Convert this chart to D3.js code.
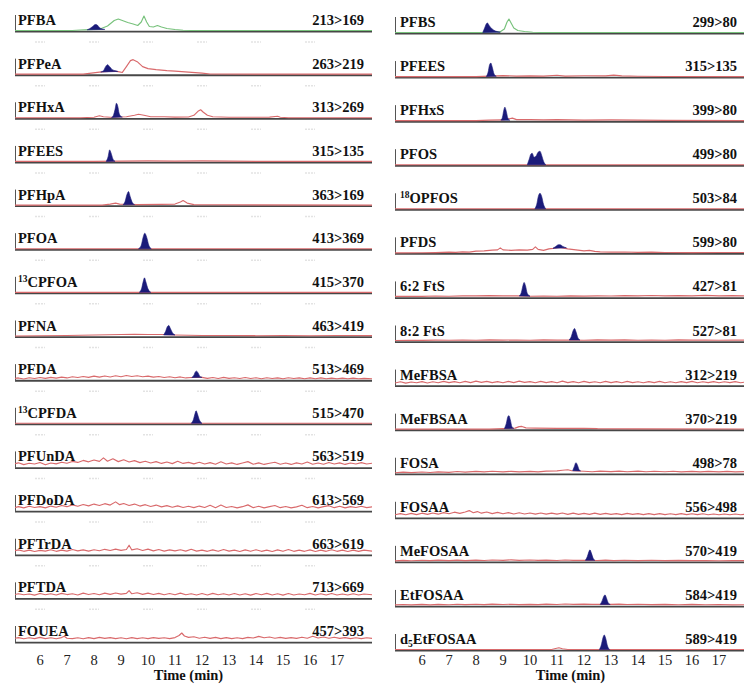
<!DOCTYPE html>
<html><head><meta charset="utf-8">
<script src="https://cdn.jsdelivr.net/npm/d3@7"></script>
<style>body{margin:0;background:#fff}</style>
</head><body><svg id="c" width="744" height="684"></svg>
<script>
// ---------------- DATA ----------------
const tickValues = [6,7,8,9,10,11,12,13,14,15,16,17];
const leftNames = ["PFBA","PFPeA","PFHxA","PFEES","PFHpA","PFOA","^13^CPFOA","PFNA","PFDA","^13^CPFDA","PFUnDA","PFDoDA","PFTrDA","PFTDA","FOUEA"];
const leftTransitions = ["213>169","263>219","313>269","315>135","363>169","413>369","415>370","463>419","513>469","515>470","563>519","613>569","663>619","713>669","457>393"];
const rightNames = ["PFBS","PFEES","PFHxS","PFOS","^18^OPFOS","PFDS","6:2 FtS","8:2 FtS","MeFBSA","MeFBSAA","FOSA","FOSAA","MeFOSAA","EtFOSAA","d_5_EtFOSAA"];
const rightTransitions = ["299>80","315>135","399>80","499>80","503>84","599>80","427>81","527>81","312>219","370>219","498>78","556>498","570>419","584>419","589>419"];

// traces: [time (min), signal]
const tPFBA = [[5,0.5],[7.2,0.5],[7.5,1],[7.8,1.4],[8.2,1.8],[8.5,5],[8.75,10.5],[8.9,12],[9.05,10.5],[9.25,8.5],[9.45,7],[9.62,5.5],[9.75,9],[9.85,15],[9.95,9],[10.05,4.5],[10.2,4],[10.35,5.5],[10.5,4],[10.7,2.5],[11,1.5],[11.3,0.8],[11.6,0.5],[18.3,0.5]];
const tPFPeA = [[5,0.5],[7.6,0.5],[7.9,1.5],[8.2,2.5],[8.4,3],[8.7,3.5],[8.9,3],[9.05,2.2],[9.2,8],[9.35,14],[9.45,15],[9.6,13],[9.8,8],[10,6],[10.3,5],[10.7,4],[11,3.5],[11.5,2.5],[12,1.5],[12.3,0.6],[18.3,0.5]];
const tPFHxA = [[5,0.5],[7.5,0.5],[8,1],[8.2,2.5],[8.35,1.5],[8.6,1],[9.2,1.5],[9.5,3],[9.65,4],[9.85,3],[10.1,1.5],[10.6,1.5],[11,1.2],[11.5,1.3],[11.7,3],[11.85,7],[11.95,8.5],[12.05,6],[12.2,3],[12.4,1.5],[13,1],[14,1],[14.5,1.2],[14.8,2],[14.9,1],[15.2,0.5],[18.3,0.5]];
const tPFEESa = [[5,0.5],[8,0.5],[9,0.8],[10,1],[11,0.8],[12,1],[13,0.8],[14,0.6],[18.3,0.5]];
const tPFHpA = [[5,0.5],[8.3,0.5],[8.6,1.5],[8.8,2.5],[8.95,1.5],[9.6,1],[10.5,1.2],[11,1.5],[11.2,3.5],[11.3,5],[11.45,2.5],[11.7,1],[12.5,0.8],[18.3,0.5]];
const tPFOA = [[5,0.5],[18.3,0.5]];
const tCPFOA = [[5,0.5],[18.3,0.5]];
const tPFNA = [[5,0.5],[6,0.7],[7,1],[8,1.5],[9,2],[9.5,2.3],[10,2],[10.5,2],[11,1.5],[12,1],[13,1],[14,0.8],[15,1],[16,0.8],[17,1],[18.3,0.8]];
const tPFDA = [[5,1.4],[5.2,2.2],[5.4,1.2],[5.6,2.4],[5.8,1.6],[6,2.6],[6.2,1.8],[6.4,2.8],[6.6,2],[6.8,3],[7,2.2],[7.2,3.4],[7.4,2.6],[7.6,3.6],[7.8,2.8],[8,4],[8.2,3],[8.4,4.2],[8.6,3.2],[8.8,4.4],[9,3.4],[9.2,4.6],[9.4,3.6],[9.6,4.4],[9.8,3.4],[10,4],[10.2,3],[10.4,3.6],[10.6,2.6],[10.8,3.4],[11,2.4],[11.2,3.2],[11.4,2.2],[11.6,2.6],[12,2.8],[12.2,1.8],[12.4,2.6],[12.6,1.6],[12.8,2.8],[13,1.8],[13.2,2.4],[13.4,1.6],[13.6,2.6],[13.8,1.6],[14,2.4],[14.2,1.4],[14.4,2.4],[14.6,1.6],[14.8,2.2],[15,1.4],[15.2,2.4],[15.4,1.6],[15.6,2.2],[15.8,1.4],[16,2.2],[16.2,1.4],[16.4,2.2],[16.6,1.4],[16.8,2],[17,1.4],[17.2,2],[17.4,1.4],[17.6,2],[17.8,1.4],[18,1.8],[18.3,1.4]];
const tCPFDA = [[5,0.5],[18.3,0.5]];
const tPFUnDA = [[5,3.2],[5.2,4.6],[5.4,2.8],[5.6,4.2],[5.8,3.4],[6,5],[6.2,2.6],[6.4,4.4],[6.6,3.6],[6.8,5.2],[7,4.2],[7.2,6],[7.4,5],[7.6,7],[7.8,5.6],[8,7.4],[8.2,6],[8.35,9.5],[8.5,6.2],[8.7,8.6],[8.9,5.8],[9.1,7.6],[9.3,5.4],[9.5,6.8],[9.7,4.8],[9.9,6.2],[10.1,4.4],[10.3,5.8],[10.5,4],[10.7,5.4],[10.9,3.8],[11.1,6.2],[11.3,4],[11.5,5],[11.7,3.6],[11.9,5.2],[12.1,3.4],[12.3,4.8],[12.5,3.2],[12.7,5.6],[12.9,3.4],[13.1,4.6],[13.3,3],[13.5,4.4],[13.7,5.8],[13.9,3.2],[14.1,4.6],[14.3,3],[14.5,4.2],[14.7,5.2],[14.9,3.2],[15.1,4.4],[15.3,3],[15.5,4.6],[15.7,3.4],[15.9,5.4],[16.1,3.2],[16.3,4.4],[16.5,3.2],[16.7,5],[16.9,3.4],[17.1,4.6],[17.3,3],[17.5,4.4],[17.7,3.4],[17.9,4.8],[18.1,3.4],[18.3,4.2]];
const tPFDoDA = [[5,3],[5.2,4.4],[5.4,3.2],[5.6,4.8],[5.8,3.6],[6,4.4],[6.2,3.2],[6.4,5],[6.6,3.8],[6.8,5.6],[7,4.4],[7.2,6.2],[7.4,4.8],[7.6,6.6],[7.8,5.2],[8,7],[8.2,5.6],[8.4,7.4],[8.6,6],[8.8,9.2],[8.95,6.4],[9.1,7.6],[9.3,5.6],[9.5,7],[9.7,5],[9.9,6.4],[10.1,4.6],[10.3,6],[10.5,4.2],[10.7,5.4],[10.9,3.8],[11.1,5.2],[11.3,3.6],[11.5,4.8],[11.7,3.4],[11.9,5],[12.1,3.6],[12.3,5.8],[12.5,3.4],[12.7,6],[12.9,3.6],[13.1,4.6],[13.3,3.2],[13.5,4.4],[13.7,6.2],[13.9,3.4],[14.1,4.8],[14.3,3.2],[14.5,4.4],[14.7,5.6],[14.9,3.4],[15.1,4.6],[15.3,3.2],[15.5,4.2],[15.7,5.8],[15.9,3.4],[16.1,4.6],[16.3,3.2],[16.5,4.4],[16.7,5.4],[16.9,3.4],[17.1,4.8],[17.3,3.2],[17.5,4.4],[17.7,3.6],[17.9,4.8],[18.1,3.4],[18.3,4.2]];
const tPFTrDA = [[5,3.6],[5.2,4.8],[5.4,3.4],[5.6,4.6],[5.8,3.2],[6,4.4],[6.2,3.6],[6.4,5],[6.6,3.4],[6.8,4.6],[7,3.6],[7.2,5.2],[7.4,3.8],[7.6,4.8],[7.8,3.6],[8,5],[8.2,4],[8.4,5.4],[8.6,4.2],[8.8,5.6],[9,4.4],[9.2,5.2],[9.3,9.5],[9.4,4.8],[9.6,6],[9.8,4.2],[10,5.6],[10.2,3.8],[10.4,5.2],[10.6,3.6],[10.8,4.8],[11,3.8],[11.2,5],[11.4,3.6],[11.6,5.4],[11.8,3.6],[12,4.6],[12.2,3.4],[12.4,4.8],[12.6,3.4],[12.8,5.2],[13,3.6],[13.2,4.6],[13.4,3.2],[13.6,4.8],[13.8,3.4],[14,5],[14.2,3.4],[14.4,4.6],[14.6,3.2],[14.8,4.8],[15,3.4],[15.2,5.2],[15.4,3.4],[15.6,4.6],[15.8,3.4],[16,4.8],[16.2,3.2],[16.4,4.6],[16.6,3.4],[16.8,5],[17,3.4],[17.2,4.6],[17.4,3.2],[17.6,4.6],[17.8,3.4],[18,4.6],[18.3,3.6]];
const tPFTDA = [[5,3.4],[5.2,4.6],[5.4,3.6],[5.6,4.4],[5.8,3.2],[6,4.8],[6.2,3.6],[6.4,4.6],[6.6,3.4],[6.8,5],[7,3.8],[7.2,4.6],[7.4,3.4],[7.6,5.2],[7.8,3.8],[8,4.8],[8.2,3.6],[8.4,5.2],[8.6,4],[8.8,5.4],[9,4.2],[9.2,5],[9.3,7.8],[9.4,4.6],[9.6,5.6],[9.8,4],[10,5.2],[10.2,3.8],[10.4,5],[10.6,3.6],[10.8,4.8],[11,3.6],[11.2,5.2],[11.4,3.6],[11.6,4.6],[11.8,3.4],[12,4.8],[12.2,3.4],[12.4,5],[12.6,3.6],[12.8,4.6],[13,3.4],[13.2,4.8],[13.4,3.4],[13.6,4.6],[13.8,3.2],[14,4.8],[14.2,3.6],[14.4,5],[14.6,3.4],[14.8,4.6],[15,3.2],[15.2,4.8],[15.4,3.4],[15.6,4.4],[15.8,3.6],[16,5],[16.2,3.4],[16.4,4.6],[16.6,3.4],[16.8,4.8],[17,3.4],[17.2,4.4],[17.4,3.4],[17.6,4.6],[17.8,3.4],[18,4.4],[18.3,3.6]];
const tFOUEA = [[5,3.4],[5.2,4.4],[5.4,3.2],[5.6,4.2],[5.8,3.4],[6,4.6],[6.2,3.4],[6.4,4.2],[6.6,3.2],[6.8,4.4],[6.9,5.8],[7,3.8],[7.2,3.4],[7.4,4.2],[7.6,3.2],[7.8,4.4],[8,3.4],[8.2,4.6],[8.4,3.6],[8.6,4.4],[8.8,3.4],[9,4.2],[9.2,3.2],[9.4,4.4],[9.6,3.4],[9.8,4.2],[10,3.4],[10.2,4.4],[10.4,3.6],[10.6,4.2],[10.8,3.4],[11,4.4],[11.15,6.5],[11.25,9],[11.35,6],[11.5,4.6],[11.7,5.2],[11.9,3.8],[12.1,4.8],[12.3,3.6],[12.5,4.6],[12.7,3.4],[12.9,4.4],[13.1,3.4],[13.3,4.2],[13.5,3.4],[13.7,4.6],[13.9,4],[14.1,5.6],[14.3,4.2],[14.5,5],[14.7,3.8],[14.9,4.6],[15.1,3.6],[15.3,4.4],[15.5,3.6],[15.7,4.8],[15.9,3.8],[16.1,5.8],[16.3,4],[16.5,5],[16.7,3.8],[16.9,4.8],[17.1,3.6],[17.3,4.4],[17.5,3.4],[17.7,4.2],[17.9,3.4],[18.1,4.2],[18.3,3.6]];

const tPFBS = [[5,0.5],[8.2,0.5],[8.5,1],[8.7,1.5],[8.9,1.2],[9.05,4],[9.15,11],[9.22,14],[9.3,10],[9.4,5],[9.55,2.5],[9.8,1.5],[10.1,0.8],[10.4,0.5],[18,0.5]];
const tPFEESb = [[5,0.5],[8,0.5],[8.5,1],[9,1.5],[9.5,1],[10,1.2],[10.5,1],[11,1.8],[11.3,1],[12,1.3],[12.8,1.2],[13.1,2],[13.4,1.2],[14,0.8],[15,0.6],[18,0.5]];
const tPFHxS = [[5,0.5],[8,0.5],[8.5,1],[9,1.2],[9.35,3],[9.5,1.5],[10,1.5],[10.5,1.2],[11,1.5],[12,1],[13,1.2],[14,1],[15,0.8],[18,0.5]];
const tPFOS = [[5,0.5],[18,0.5]];
const tOPFOS = [[5,0.5],[18,0.5]];
const tPFDS = [[5,0.5],[6,0.6],[6.5,0.8],[7,1.2],[7.25,1],[7.5,1.5],[7.75,1.3],[8,2.2],[8.3,2.5],[8.6,3.2],[8.8,3.5],[8.9,5.5],[9,3.5],[9.3,3],[9.6,3.5],[9.9,3.2],[10.1,4],[10.2,6.5],[10.3,4],[10.5,3],[10.7,4.5],[10.85,5],[11.1,6],[11.4,4.5],[11.7,3.5],[12,2.5],[12.2,3],[12.4,2],[12.6,1.5],[13,1.2],[13.5,1.4],[14,1],[14.5,1.2],[15,0.9],[16,0.8],[17,0.9],[18,0.8]];
const tFtS62 = [[5,1],[5.5,1.2],[6,1],[6.5,1.4],[7,1.2],[7.5,1.6],[8,1.5],[8.5,1.8],[9,1.6],[9.5,1.5],[10,1.2],[10.5,1.3],[11,1.2],[11.5,1.5],[12,1.3],[12.5,1.6],[13,1.4],[13.5,1.8],[14,1.5],[14.5,1.9],[15,1.5],[15.5,1.8],[16,1.6],[16.5,2],[17,1.6],[17.5,1.8],[18,1.5]];
const tFtS82 = [[5,1],[5.5,1.3],[6,1.1],[6.5,1.4],[7,1.2],[7.5,1.5],[8,1.3],[8.5,1.6],[9,1.4],[9.5,1.5],[10,1.3],[10.5,1.6],[11,1.4],[11.5,1.5],[12,1.3],[12.5,1.6],[13,1.4],[13.5,1.6],[14,1.3],[14.5,1.5],[15,1.3],[15.5,1.6],[16,1.4],[16.5,1.5],[17,1.3],[17.5,1.5],[18,1.3]];
const tMeFBSA = [[5,2.6],[5.2,3.8],[5.4,2.4],[5.6,3.6],[5.8,2.8],[6,4],[6.2,2.6],[6.4,3.8],[6.6,2.8],[6.8,4.2],[7,3],[7.2,4],[7.4,2.8],[7.6,4.2],[7.8,3],[8,4.4],[8.2,3.2],[8.4,4.2],[8.6,3],[8.8,4],[9,2.8],[9.2,4.2],[9.4,3],[9.6,4.4],[9.8,3.2],[10,4],[10.2,2.8],[10.4,4.2],[10.6,3],[10.8,4],[11,2.8],[11.2,4.4],[11.4,3],[11.6,4],[11.8,2.8],[12,4.2],[12.2,3],[12.4,3.8],[12.6,2.8],[12.8,4.2],[13,3],[13.2,4],[13.4,2.8],[13.6,4.2],[13.8,3],[14,3.8],[14.2,2.8],[14.4,4],[14.6,3],[14.8,4.2],[15,2.8],[15.2,3.8],[15.4,2.8],[15.6,4],[15.8,3],[16,4.2],[16.2,2.8],[16.4,3.8],[16.6,3],[16.8,4],[17,2.8],[17.2,3.8],[17.4,3],[17.6,4],[17.8,2.8],[18,3.6]];
const tMeFBSAA = [[5,0.5],[8.5,0.5],[9,1],[9.45,1.5],[9.6,3],[9.7,3.2],[9.85,1.8],[10.2,1.5],[11,1.2],[12,1.4],[12.5,1],[14,0.8],[18,0.6]];
const tFOSA = [[5,1],[5.3,1.6],[5.6,1.1],[6,1.7],[6.3,1.2],[6.6,1.9],[7,1.4],[7.3,2.2],[7.6,1.6],[8,2.4],[8.3,1.8],[8.6,2.5],[9,1.9],[9.3,2.4],[9.6,1.8],[10,2.3],[10.3,1.9],[10.6,2.6],[11,2.8],[11.2,3.5],[11.4,4],[11.55,3],[12,2.5],[12.3,2],[12.6,2.6],[13,2.1],[13.3,2.6],[13.6,2],[14,2.6],[14.3,2],[14.6,2.5],[15,2],[15.3,2.5],[15.6,1.9],[16,2.4],[16.3,1.9],[16.6,2.4],[17,1.9],[17.3,2.3],[17.6,1.9],[18,2.1]];
const tFOSAA = [[5,3],[5.2,4.2],[5.4,3],[5.6,4.4],[5.8,3.2],[6,4.6],[6.2,3.4],[6.4,4.8],[6.6,3.6],[6.8,5.2],[7,4],[7.2,5.6],[7.4,4.4],[7.6,5.8],[7.75,7.2],[7.9,5],[8.05,6.2],[8.2,4.6],[8.4,5.8],[8.6,4.2],[8.8,5.4],[9,4],[9.2,5.2],[9.4,3.8],[9.6,5],[9.8,3.8],[10,4.8],[10.2,3.6],[10.4,4.8],[10.6,3.6],[10.8,4.6],[11,3.6],[11.2,4.8],[11.4,3.4],[11.6,4.6],[11.8,3.4],[12,4.4],[12.2,3.4],[12.4,4.6],[12.6,3.4],[12.8,4.4],[13,3.4],[13.2,4.2],[13.4,3.2],[13.6,4.4],[13.8,3.4],[14,4.2],[14.2,3.2],[14.4,4.2],[14.6,3.2],[14.8,4.2],[15,3.2],[15.2,4],[15.4,3.2],[15.6,4.2],[15.8,3.2],[16,4],[16.2,3.2],[16.4,4],[16.6,3],[16.8,3.8],[17,3],[17.2,3.8],[17.4,3],[17.6,3.8],[17.8,3],[18,3.6]];
const tMeFOSAA = [[5,1],[5.3,1.5],[5.6,1.1],[6,1.6],[6.3,1.2],[6.6,1.7],[7,1.3],[7.3,1.8],[7.6,1.3],[8,1.8],[8.3,1.4],[8.6,1.9],[9,1.5],[9.3,2],[9.6,1.5],[10,1.9],[10.3,1.5],[10.6,1.8],[11,1.4],[11.3,1.9],[11.6,1.5],[12,1.6],[12.5,1.4],[12.8,1.8],[13.1,1.3],[13.5,1.6],[14,1.3],[14.5,1.6],[15,1.2],[15.5,1.5],[16,1.2],[16.5,1.4],[17,1.1],[17.5,1.4],[18,1.2]];
const tEtFOSAA = [[5,1],[5.3,1.4],[5.6,1],[6,1.5],[6.3,1.1],[6.6,1.6],[7,1.2],[7.3,1.7],[7.6,1.3],[8,1.7],[8.3,1.3],[8.6,1.8],[9,1.4],[9.3,1.7],[9.6,1.3],[10,1.6],[10.3,1.3],[10.6,1.8],[11,1.4],[11.3,1.9],[11.6,1.5],[12,1.8],[12.3,1.5],[12.5,1.7],[13,1.5],[13.3,1.8],[13.6,1.4],[14,1.7],[14.5,1.3],[15,1.6],[15.5,1.2],[16,1.5],[16.5,1.2],[17,1.4],[17.5,1.1],[18,1.2]];
const tD5EtFOSAA = [[5,0.5],[10.8,0.5],[10.95,1.5],[11.07,2.2],[11.2,1.2],[11.4,0.5],[18,0.5]];

// integrated (filled) peaks: [time, signal]; polygon closes back to its first point
const pPFBA = [[7.75,1.2],[7.85,2.5],[7.95,4.5],[8.05,6.5],[8.12,6],[8.2,3.5],[8.3,2],[8.4,1.6]];
const pPFPeA = [[8.25,2.6],[8.35,4],[8.43,8],[8.5,10],[8.58,8],[8.68,5],[8.8,3.8],[8.88,3.2]];
const pPFHxA = [[8.65,0.8],[8.72,3],[8.78,9],[8.83,15],[8.88,12],[8.93,5],[9,1.8],[9.05,1.2]];
const pPFEESa = [[8.45,0.5],[8.52,5],[8.58,12],[8.63,9],[8.7,3],[8.78,0.6]];
const pPFHpA = [[9.08,0.8],[9.15,4],[9.22,11],[9.28,14],[9.34,9],[9.42,3],[9.5,1]];
const pPFOA = [[9.65,0.5],[9.75,4],[9.82,12],[9.88,16],[9.95,12],[10.03,4],[10.12,0.5]];
const pCPFOA = [[9.68,0.5],[9.76,4],[9.83,12],[9.87,15],[9.92,11],[10,4],[10.1,0.5]];
const pPFNA = [[10.58,1.6],[10.65,5],[10.72,10],[10.77,11],[10.83,8],[10.9,4],[11,1.5]];
const pPFDA = [[11.62,2.6],[11.7,5],[11.76,8.5],[11.8,9],[11.86,7],[11.93,3.5],[12,2.8]];
const pCPFDA = [[11.6,0.5],[11.68,4],[11.74,10],[11.78,13],[11.83,10],[11.9,4],[12,0.5]];
const pPFBS = [[8.25,0.5],[8.32,5],[8.38,9],[8.42,10],[8.5,7],[8.6,4],[8.72,2],[8.85,1],[8.9,0.8]];
const pPFEESb = [[8.38,0.6],[8.45,5],[8.5,12],[8.55,14],[8.6,10],[8.67,3],[8.75,0.8]];
const pPFHxS = [[8.92,1],[8.98,4],[9.03,11],[9.07,14],[9.12,10],[9.18,3],[9.25,1]];
const pPFOS = [[9.9,0.5],[9.97,6],[10.03,11],[10.08,12],[10.15,8],[10.22,9],[10.3,13],[10.37,14],[10.43,10],[10.5,4],[10.58,0.5]];
const pOPFOS = [[10.18,0.5],[10.25,5],[10.31,13],[10.37,16],[10.43,13],[10.5,5],[10.58,0.5]];
const pPFDS = [[10.85,5],[10.95,6.8],[11.05,8.6],[11.12,8.6],[11.2,7.2],[11.35,5.5]];
const pFtS62 = [[9.6,1.5],[9.68,5],[9.74,12],[9.78,15],[9.83,12],[9.9,4],[10,1.3]];
const pFtS82 = [[11.45,1.5],[11.53,5],[11.6,11],[11.65,13],[11.7,10],[11.77,4],[11.85,1.5]];
const pMeFBSAA = [[9.05,1.1],[9.12,6],[9.18,13],[9.22,14],[9.27,10],[9.33,3],[9.4,1.3]];
const pFOSA = [[11.58,3],[11.64,7],[11.7,11],[11.75,9],[11.82,4],[11.87,2.8]];
const pMeFOSAA = [[12.05,1.5],[12.12,5],[12.18,10],[12.22,12],[12.27,9],[12.34,3.5],[12.4,1.5]];
const pEtFOSAA = [[12.6,1.5],[12.67,5],[12.73,9.5],[12.78,11],[12.83,8],[12.9,3],[12.97,1.5]];
const pD5EtFOSAA = [[12.57,0.5],[12.64,5],[12.7,12],[12.75,15],[12.8,12],[12.87,4],[12.95,0.5]];

const leftTraces = [tPFBA,tPFPeA,tPFHxA,tPFEESa,tPFHpA,tPFOA,tCPFOA,tPFNA,tPFDA,tCPFDA,tPFUnDA,tPFDoDA,tPFTrDA,tPFTDA,tFOUEA];
const leftPeaks = [pPFBA,pPFPeA,pPFHxA,pPFEESa,pPFHpA,pPFOA,pCPFOA,pPFNA,pPFDA,pCPFDA,null,null,null,null,null];
const rightTraces = [tPFBS,tPFEESb,tPFHxS,tPFOS,tOPFOS,tPFDS,tFtS62,tFtS82,tMeFBSA,tMeFBSAA,tFOSA,tFOSAA,tMeFOSAA,tEtFOSAA,tD5EtFOSAA];
const rightPeaks = [pPFBS,pPFEESb,pPFHxS,pPFOS,pOPFOS,pPFDS,pFtS62,pFtS82,null,pMeFBSAA,pFOSA,null,pMeFOSAA,pEtFOSAA,pD5EtFOSAA];
const faintMarkTimes = [6,8,10,12,14,16];

// ---------------- DRAWING ----------------
const svg = d3.select("#c");
const serif = "'Liberation Serif','Times New Roman',serif";

const columns = [
  {names:leftNames, trans:leftTransitions, traces:leftTraces, peaks:leftPeaks,
   x:d3.scaleLinear().domain([6-25/27, 6+332/27]).range([15,372]),
   y0:d3.scaleLinear().domain([0,14]).range([31,642]), labelX:18, transX:364, faint:true, id:"L"},
  {names:rightNames, trans:rightTransitions, traces:rightTraces, peaks:rightPeaks,
   x:d3.scaleLinear().domain([5.0, 6+322/27]).range([395,744]),
   y0:d3.scaleLinear().domain([0,14]).range([33,650]), labelX:400, transX:737, faint:false, id:"R"}
];
const yv = d3.scaleLinear().domain([0,20]).range([0,-20]);

function addName(sel, s){
  // ^..^ = superscript, _.._ = subscript
  const parts = s.split(/(\^[^^]+\^|_[^_]+_)/).filter(d=>d.length);
  parts.forEach((p,k)=>{
    const last = k>0 ? parts[k-1] : null;
    if(p[0]==="^") sel.append("tspan").attr("font-size",9.5).attr("dy",-5).text(p.slice(1,-1));
    else if(p[0]==="_") sel.append("tspan").attr("font-size",9.5).attr("dy",3).text(p.slice(1,-1));
    else {
      const t = sel.append("tspan").text(p);
      if(last && last[0]==="^") t.attr("dy",5);
      if(last && last[0]==="_") t.attr("dy",-3);
    }
  });
}

columns.forEach((col)=>{
  const x = col.x;
  const [r0,r1] = x.range();
  svg.append("clipPath").attr("id","clip"+col.id).append("rect")
    .attr("x",r0).attr("y",-40).attr("width",r1-r0).attr("height",60);
  col.names.forEach((name,i)=>{
    const by = col.y0(i);
    const g = svg.append("g").attr("transform",`translate(0,${by})`);
    if(col.faint && i<col.names.length-1){
      g.selectAll("line.f").data(faintMarkTimes).join("line")
        .attr("x1",d=>x(d)-5).attr("x2",d=>x(d)+5).attr("y1",11).attr("y2",11)
        .attr("stroke","#e3e3e3").attr("stroke-width",1.5).attr("stroke-dasharray","2,1");
    }
    g.append("line").attr("x1",r0).attr("x2",r1).attr("y1",0.6).attr("y2",0.6)
      .attr("stroke","#474747").attr("stroke-width",1.8);
    g.append("line").attr("x1",r0+0.5).attr("x2",r0+0.5).attr("y1",-16).attr("y2",0.5)
      .attr("stroke","#555").attr("stroke-width",1);
    const inner = g.append("g").attr("clip-path",`url(#clip${col.id})`);
    const color = i===0 ? "#78c27c" : "#d96a6c";
    const line = d3.line().x(d=>x(d[0])).y(d=>yv(d[1]));
    inner.append("path").attr("d",line(col.traces[i])).attr("fill","none")
      .attr("stroke",color).attr("stroke-width",1.15).attr("stroke-linejoin","round");
    const pk = col.peaks[i];
    if(pk){
      const pl = d3.line().x(d=>x(d[0])).y(d=>yv(d[1])).curve(d3.curveMonotoneX);
      inner.append("path").attr("d",pl(pk)+"Z")
        .attr("fill","#1b1b7a").attr("stroke","#1b1b7a").attr("stroke-width",0.6);
    }
    const nt = g.append("text").attr("x",col.labelX).attr("y",-6)
      .attr("font-family",serif).attr("font-weight","bold").attr("font-size",14.5).attr("fill","#111");
    addName(nt,name);
    g.append("text").attr("x",col.transX).attr("y",-6).attr("text-anchor","end")
      .attr("font-family",serif).attr("font-weight","bold").attr("font-size",14.5).attr("fill","#111")
      .text(col.trans[i]);
  });
  const axisG = svg.append("g").attr("transform",`translate(0,665)`);
  axisG.selectAll("text").data(tickValues).join("text")
    .attr("x",d=>x(d)).attr("y",0).attr("text-anchor","middle")
    .attr("font-family",serif).attr("font-size",14.5).attr("fill","#222").text(d=>d);
  svg.append("text").attr("x",x(11.5)).attr("y",680).attr("text-anchor","middle")
    .attr("font-family",serif).attr("font-weight","bold").attr("font-size",14.5).attr("fill","#111")
    .text("Time (min)");
});
</script>
</body></html>
